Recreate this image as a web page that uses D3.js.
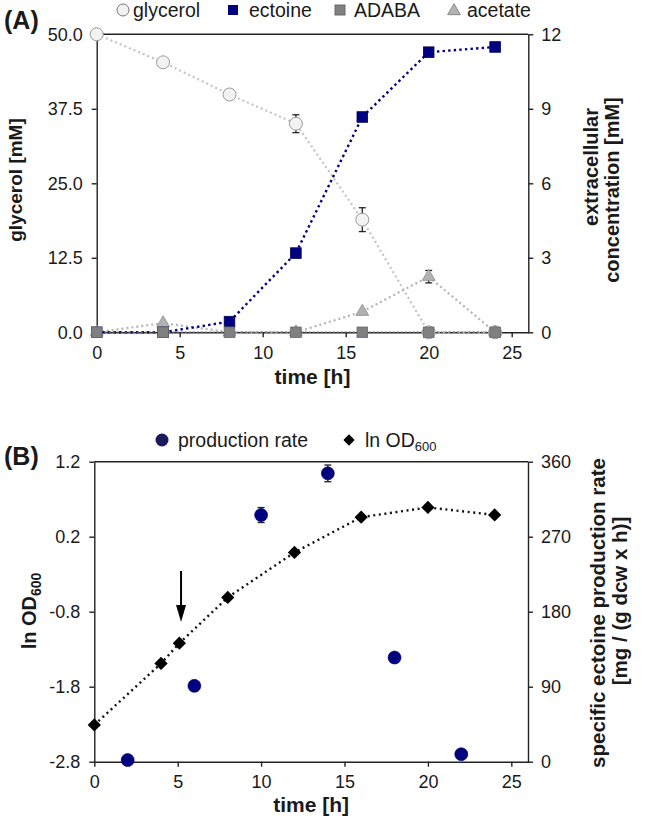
<!DOCTYPE html>
<html><head><meta charset="utf-8">
<script src="https://cdn.jsdelivr.net/npm/d3@7"></script>
<style>
body{margin:0;background:#fff}
svg{display:block}
text{font-family:"Liberation Sans",Arial,sans-serif;fill:#1a1a1a}
</style>
</head><body><svg id="c" width="645" height="822"></svg>
<script>
// ---------- data ----------
const timeA = [0, 4, 8, 12, 16, 20, 24];
const glycerol = [50, 45.3, 39.9, 35.0, 18.9, 0, 0];
const glycerolErr = [0, 0, 0, 1.5, 2.0, 0, 0];
const ectoine = [0, 0, 0.43, 3.19, 8.67, 11.28, 11.49];
const adaba = [0, 0, 0, 0, 0, 0, 0];
const acetate = [0, 0.37, 0, 0, 0.83, 2.24, 0];
const acetateErr = [0, 0, 0, 0, 0, 0.25, 0];

const timeOD = [0, 4, 5.1, 8, 12, 16, 20, 24];
const lnOD = [-2.31, -1.49, -1.22, -0.61, -0.01, 0.46, 0.59, 0.49];
const timeRate = [2, 6, 10, 14, 18, 22];
const rate = [2, 91, 296, 346, 125, 9];
const rateErr = [0, 0, 9, 10, 0, 0];
const arrowTime = [5.2];

const xTicks = [0, 5, 10, 15, 20, 25];
const glyTicks = [0, 12.5, 25, 37.5, 50];
const concTicks = [0, 3, 6, 9, 12];
const odTicks = [-2.8, -1.8, -0.8, 0.2, 1.2];
const rateTicks = [0, 90, 180, 270, 360];

// ---------- setup ----------
const svg = d3.select("#c");
const NAVY = "#000080";
const AX = "#222";

function styleAxis(g) {
  g.selectAll("path.domain").attr("stroke", AX).attr("stroke-width", 1.4);
  g.selectAll(".tick line").attr("stroke", AX).attr("stroke-width", 1.4);
  g.selectAll(".tick text").attr("font-size", 18).attr("fill", "#1a1a1a")
    .style("font-family", '"Liberation Sans",Arial,sans-serif');
}

function panelAxes(x, yL, yR, ticksL, fmtL, ticksR, top, bottom, left, right) {
  svg.append("g").attr("transform", `translate(0,${bottom})`)
    .call(d3.axisBottom(x).tickValues(xTicks).tickSize(5).tickSizeOuter(0).tickPadding(9).tickFormat(d3.format("d")))
    .call(styleAxis);
  svg.append("g").attr("transform", `translate(${left},0)`)
    .call(d3.axisLeft(yL).tickValues(ticksL).tickSize(5).tickSizeOuter(0).tickPadding(9).tickFormat(fmtL))
    .call(styleAxis);
  svg.append("g").attr("transform", `translate(${right},0)`)
    .call(d3.axisRight(yR).tickValues(ticksR).tickSize(5).tickSizeOuter(0).tickPadding(8).tickFormat(d3.format("d")))
    .call(styleAxis);
  svg.append("line").attr("x1", left).attr("x2", right).attr("y1", top).attr("y2", top)
    .attr("stroke", AX).attr("stroke-width", 1.4);
}

function errBars(g, xs, ys, es, x, y) {
  xs.forEach((t, i) => {
    if (!es[i]) return;
    const cx = x(t), y1 = y(ys[i] + es[i]), y2 = y(ys[i] - es[i]);
    g.append("line").attr("x1", cx).attr("x2", cx).attr("y1", y1).attr("y2", y2).attr("stroke", "#222").attr("stroke-width", 1.3);
    [y1, y2].forEach(yy => g.append("line").attr("x1", cx - 3.5).attr("x2", cx + 3.5).attr("y1", yy).attr("y2", yy).attr("stroke", "#222").attr("stroke-width", 1.3));
  });
}

const tri = d3.symbol().type(d3.symbolTriangle).size(70)();
const dia = d3.symbol().type(d3.symbolSquare).size(88)();

// ================= Panel A =================
const topA = 34.3, botA = 332.3, leftA = 96.7, rightA = 528.3;
const xA = d3.scaleLinear().domain([0, 26]).range([leftA, rightA]);
const yGly = d3.scaleLinear().domain([0, 50]).range([botA, topA]);
const yConc = d3.scaleLinear().domain([0, 12]).range([botA, topA]);

panelAxes(xA, yGly, yConc, glyTicks, d => d.toFixed(1), concTicks, topA, botA, leftA, rightA);

const gA = svg.append("g");
const lineOf = (xs, ys, x, y) => d3.line().x((d, i) => x(xs[i])).y(d => y(d))(ys);

// lines
gA.append("path").attr("d", lineOf(timeA, glycerol, xA, yGly)).attr("fill", "none")
  .attr("stroke", "#c4c4c4").attr("stroke-width", 2.2).attr("stroke-dasharray", "2,3");
gA.append("path").attr("d", lineOf(timeA, acetate, xA, yConc)).attr("fill", "none")
  .attr("stroke", "#b4b4b4").attr("stroke-width", 2.2).attr("stroke-dasharray", "2,3");
gA.append("path").attr("d", lineOf(timeA, ectoine, xA, yConc)).attr("fill", "none")
  .attr("stroke", NAVY).attr("stroke-width", 2.4).attr("stroke-dasharray", "2.4,3.2");
gA.append("path").attr("d", lineOf(timeA, adaba, xA, yConc)).attr("fill", "none")
  .attr("stroke", "#666").attr("stroke-width", 1.6).attr("stroke-dasharray", "2,2");

// error bars
errBars(gA, timeA, glycerol, glycerolErr, xA, yGly);
errBars(gA, timeA, acetate, acetateErr, xA, yConc);

// markers
gA.selectAll(".gly").data(glycerol).join("circle")
  .attr("cx", (d, i) => xA(timeA[i])).attr("cy", d => yGly(d)).attr("r", 6.5)
  .attr("fill", "#f2f2f2").attr("stroke", "#9a9a9a").attr("stroke-width", 1);
gA.selectAll(".ace").data(acetate).join("path")
  .attr("d", tri).attr("transform", (d, i) => `translate(${xA(timeA[i])},${yConc(d)})`)
  .attr("fill", "#b2b2b2").attr("stroke", "#999").attr("stroke-width", 1);
gA.selectAll(".ect").data(ectoine).join("rect")
  .attr("x", (d, i) => xA(timeA[i]) - 5.3).attr("y", d => yConc(d) - 5.3).attr("width", 10.6).attr("height", 10.6)
  .attr("fill", NAVY).attr("stroke", "#00005a").attr("stroke-width", 0.8);
gA.selectAll(".ada").data(adaba).join("rect")
  .attr("x", (d, i) => xA(timeA[i]) - 5.3).attr("y", d => yConc(d) - 5.3).attr("width", 10.6).attr("height", 10.6)
  .attr("fill", "#808080").attr("stroke", "#6a6a6a").attr("stroke-width", 0.8);

// legend A
const legA = svg.append("g");
legA.append("circle").attr("cx", 123).attr("cy", 10).attr("r", 6).attr("fill", "#f2f2f2").attr("stroke", "#777").attr("stroke-width", 1);
legA.append("text").attr("x", 133).attr("y", 17).attr("font-size", 19.5).text("glycerol");
legA.append("rect").attr("x", 228).attr("y", 5).attr("width", 10).attr("height", 10).attr("fill", NAVY);
legA.append("text").attr("x", 249).attr("y", 17).attr("font-size", 19.5).text("ectoine");
legA.append("rect").attr("x", 335).attr("y", 5).attr("width", 10).attr("height", 10).attr("fill", "#808080").attr("stroke", "#6a6a6a");
legA.append("text").attr("x", 354).attr("y", 17).attr("font-size", 19.5).text("ADABA");
legA.append("path").attr("d", tri).attr("transform", "translate(454,11)").attr("fill", "#b2b2b2").attr("stroke", "#888");
legA.append("text").attr("x", 467).attr("y", 17).attr("font-size", 19.5).text("acetate");

svg.append("text").attr("x", 4).attr("y", 29).attr("font-size", 25).attr("font-weight", "bold").text("(A)");

// titles A
svg.append("text").attr("transform", `translate(22,180) rotate(-90)`).attr("text-anchor", "middle")
  .attr("font-size", 19).attr("font-weight", "bold").text("glycerol [mM]");
svg.append("text").attr("x", (leftA + rightA) / 2).attr("y", 384).attr("text-anchor", "middle")
  .attr("font-size", 21).attr("font-weight", "bold").text("time [h]");
svg.append("text").attr("transform", `translate(598,167) rotate(-90)`).attr("text-anchor", "middle")
  .attr("font-size", 20).attr("font-weight", "bold").text("extracellular");
svg.append("text").attr("transform", `translate(619,190) rotate(-90)`).attr("text-anchor", "middle")
  .attr("font-size", 20).attr("font-weight", "bold").text("concentration [mM]");

// ================= Panel B =================
const topB = 461.7, botB = 761.7, leftB = 94.3, rightB = 528;
const xB = d3.scaleLinear().domain([0, 26]).range([leftB, rightB]);
const yOD = d3.scaleLinear().domain([-2.8, 1.2]).range([botB, topB]);
const yRate = d3.scaleLinear().domain([0, 360]).range([botB, topB]);

panelAxes(xB, yOD, yRate, odTicks, d => d.toFixed(1), rateTicks, topB, botB, leftB, rightB);

const gB = svg.append("g");
gB.append("path").attr("d", lineOf(timeOD, lnOD, xB, yOD)).attr("fill", "none")
  .attr("stroke", "#111").attr("stroke-width", 2.4).attr("stroke-dasharray", "2,3.6");
errBars(gB, timeRate, rate, rateErr, xB, yRate);
gB.selectAll(".rate").data(rate).join("circle")
  .attr("cx", (d, i) => xB(timeRate[i])).attr("cy", d => yRate(d)).attr("r", 6.5)
  .attr("fill", NAVY).attr("stroke", "#000060").attr("stroke-width", 0.6);
gB.selectAll(".od").data(lnOD).join("path")
  .attr("d", dia).attr("transform", (d, i) => `translate(${xB(timeOD[i])},${yOD(d)}) rotate(45)`)
  .attr("fill", "#000");

// arrow
arrowTime.forEach(t => {
  const ax = xB(t);
  gB.append("line").attr("x1", ax).attr("x2", ax).attr("y1", 571).attr("y2", 606).attr("stroke", "#000").attr("stroke-width", 2);
  gB.append("path").attr("d", `M${ax - 5},605 L${ax + 5},605 L${ax},622 Z`).attr("fill", "#000");
});

// legend B
const legB = svg.append("g");
legB.append("circle").attr("cx", 162).attr("cy", 440).attr("r", 6.5).attr("fill", "#1c1a5c");
legB.append("text").attr("x", 178).attr("y", 447).attr("font-size", 19.5).text("production rate");
legB.append("path").attr("d", dia).attr("transform", "translate(349,440) rotate(45) scale(0.85)").attr("fill", "#000");
const lt = legB.append("text").attr("x", 365).attr("y", 447).attr("font-size", 19.5);
lt.append("tspan").text("ln OD");
lt.append("tspan").attr("font-size", 13).attr("dy", 4).text("600");

svg.append("text").attr("x", 4).attr("y", 465).attr("font-size", 25).attr("font-weight", "bold").text("(B)");

// titles B
const odT = svg.append("text").attr("transform", `translate(36,611) rotate(-90)`).attr("text-anchor", "middle")
  .attr("font-size", 20).attr("font-weight", "bold");
odT.append("tspan").text("ln OD");
odT.append("tspan").attr("font-size", 14).attr("dy", 5).text("600");
svg.append("text").attr("x", (leftB + rightB) / 2).attr("y", 812).attr("text-anchor", "middle")
  .attr("font-size", 21).attr("font-weight", "bold").text("time [h]");
svg.append("text").attr("transform", `translate(605,613) rotate(-90)`).attr("text-anchor", "middle")
  .attr("font-size", 20.5).attr("font-weight", "bold").text("specific ectoine production rate");
svg.append("text").attr("transform", `translate(627,601) rotate(-90)`).attr("text-anchor", "middle")
  .attr("font-size", 20.5).attr("font-weight", "bold").text("[mg / (g dcw x h)]");
</script>
</body></html>
